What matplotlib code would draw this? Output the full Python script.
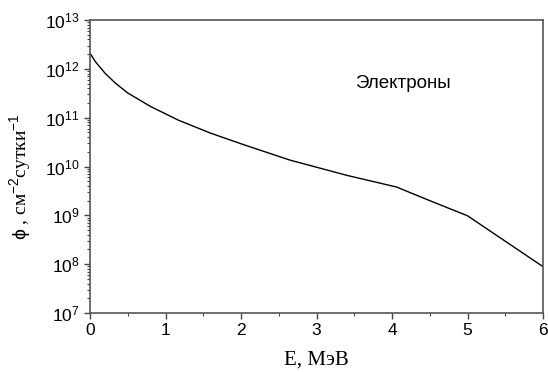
import numpy as np
import matplotlib
matplotlib.use('Agg')
import matplotlib.pyplot as plt
from matplotlib.ticker import LogLocator, MultipleLocator, NullFormatter

# энергия, МэВ
energy = [0, 0.07, 0.2, 0.33, 0.5, 0.8, 1.17, 1.6, 2.05, 2.65, 3.4, 4.06, 4.5, 5.0, 5.5, 6.0]
# поток электронов, см^-2 сутки^-1
flux = [2.09e12, 1.41e12, 8.1e11, 5.2e11, 3.2e11, 1.7e11, 8.9e10, 4.8e10,
        2.75e10, 1.35e10, 6.6e9, 3.8e9, 2.0e9, 9.8e8, 2.95e8, 8.9e7]

plt.rcParams['font.family'] = ['Liberation Sans', 'DejaVu Sans']
plt.rcParams['mathtext.fontset'] = 'custom'
plt.rcParams['mathtext.rm'] = 'Liberation Sans'
plt.rcParams['mathtext.it'] = 'Liberation Sans'

fig = plt.figure(figsize=(5.48, 3.72), dpi=100)
ax = fig.add_axes([90 / 548, 1 - 313 / 372, 453 / 548, 293 / 372])

ax.plot(energy, flux, color='black', lw=1.0)
ax.set_yscale('log')
ax.set_xlim(0, 6)
ax.set_ylim(1e7, 1e13)

ax.xaxis.set_major_locator(MultipleLocator(1))
ax.xaxis.set_minor_locator(MultipleLocator(0.5))
ax.yaxis.set_major_locator(LogLocator(base=10, numticks=20))
ax.yaxis.set_minor_locator(LogLocator(base=10, subs=np.arange(2, 10), numticks=20))
ax.yaxis.set_minor_formatter(NullFormatter())

ax.tick_params(which='both', direction='out', top=False, right=False,
               color='#444444', labelsize=12.5, labelcolor='black')
ax.tick_params(which='major', length=4, width=1)
ax.tick_params(which='minor', length=2, width=0.8)
for s in ax.spines.values():
    s.set_color('#555555')
    s.set_linewidth(1.2)

# подпись в пикселях (от нижнего левого угла фигуры)
fig.text(355 / 548, 1 - 83 / 372, 'Электроны', fontsize=13.5, va='center')

ax.set_xlabel('E, МэВ', family=['Liberation Serif', 'DejaVu Serif'], fontsize=15, labelpad=9)
ax.set_ylabel('$\\phi$ , см$^{-2}$сутки$^{-1}$', family=['Liberation Serif', 'DejaVu Serif'],
              fontsize=14, labelpad=10)
ax.yaxis.set_label_coords(-0.126, 0.464)

fig.savefig('out.png', dpi=100)
